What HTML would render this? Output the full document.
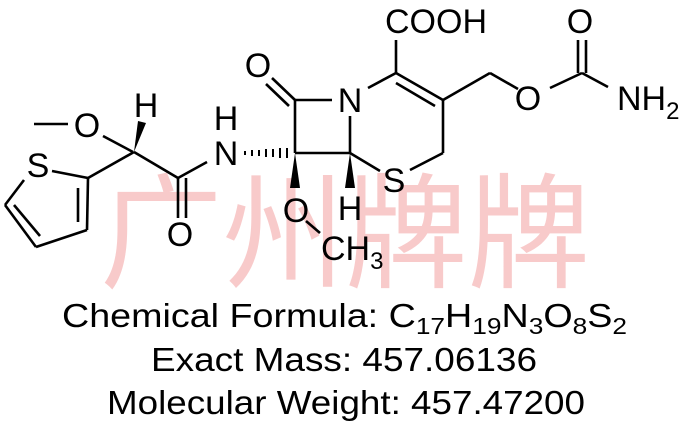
<!DOCTYPE html>
<html><head><meta charset="utf-8"><style>
html,body{margin:0;padding:0;background:#fff;}
svg{display:block;}
text{font-family:"Liberation Sans",Arial,sans-serif;fill:#000;}
</style></head><body>
<svg width="686" height="444" viewBox="0 0 686 444" xmlns="http://www.w3.org/2000/svg">
<text x="100" y="278" font-size="125" textLength="490" lengthAdjust="spacingAndGlyphs" style="font-family:'Noto Sans CJK SC','WenQuanYi Zen Hei',sans-serif;fill:#f4a8a8;opacity:0.6">广州牌牌</text>
<g stroke="#000" stroke-width="2.6" fill="none" stroke-linecap="butt">
<line x1="34" y1="124" x2="68" y2="124"/>
<line x1="103" y1="136" x2="133" y2="152"/>
<line x1="134" y1="152" x2="88" y2="178"/>
<line x1="134" y1="152" x2="178" y2="178"/>
<line x1="178" y1="178" x2="207" y2="162"/>
<line x1="178" y1="178" x2="178" y2="218"/>
<line x1="186" y1="178" x2="186" y2="218"/>
<line x1="52" y1="171" x2="88" y2="178"/>
<line x1="88" y1="178" x2="87" y2="230"/>
<line x1="78" y1="188" x2="78" y2="222"/>
<line x1="87" y1="230" x2="36" y2="247"/>
<line x1="36" y1="247" x2="5" y2="205"/>
<line x1="14" y1="205" x2="40" y2="236"/>
<line x1="5" y1="205" x2="24" y2="180"/>
<line x1="295" y1="153" x2="350" y2="153"/>
<line x1="295" y1="153" x2="295" y2="100"/>
<line x1="295" y1="100" x2="332" y2="100"/>
<line x1="350" y1="153" x2="350" y2="116"/>
<line x1="295" y1="100" x2="272" y2="78"/>
<line x1="289" y1="106" x2="266" y2="84"/>
<line x1="368" y1="88" x2="396" y2="73"/>
<line x1="396" y1="73" x2="443" y2="100"/>
<line x1="396" y1="83" x2="435" y2="106"/>
<line x1="443" y1="100" x2="443" y2="153"/>
<line x1="443" y1="153" x2="410" y2="170"/>
<line x1="350" y1="153" x2="380" y2="171"/>
<line x1="396" y1="73" x2="396" y2="40"/>
<line x1="443" y1="100" x2="490" y2="73"/>
<line x1="490" y1="73" x2="518" y2="89"/>
<line x1="550" y1="88" x2="582" y2="73"/>
<line x1="582" y1="73" x2="608" y2="87"/>
<line x1="578" y1="73" x2="578" y2="40"/>
<line x1="586" y1="73" x2="586" y2="40"/>
<line x1="306" y1="221" x2="320" y2="233"/>
</g>
<polygon points="134,152 138,121 146,123" fill="#000"/>
<polygon points="295,153 290,188 300,188" fill="#000"/>
<polygon points="350,153 345,188 355,188" fill="#000"/>
<g stroke="#000" stroke-width="2">
<line x1="245" y1="151" x2="245" y2="155"/>
<line x1="252" y1="150" x2="252" y2="156"/>
<line x1="259" y1="150" x2="259" y2="156"/>
<line x1="266" y1="149" x2="266" y2="157"/>
<line x1="273" y1="149" x2="273" y2="157"/>
<line x1="280" y1="148" x2="280" y2="158"/>
<line x1="287" y1="148" x2="287" y2="158"/>
</g>
<g font-size="34" text-anchor="middle">
<text x="87" y="137">O</text>
<text x="146" y="117">H</text>
<text x="38" y="177">S</text>
<text x="226" y="130">H</text>
<text x="226" y="165">N</text>
<text x="180" y="246">O</text>
<text x="258" y="77">O</text>
<text x="350" y="112">N</text>
<text x="296" y="222">O</text>
<text x="350" y="220">H</text>
<text x="394" y="192">S</text>
<text x="436" y="33">COOH</text>
<text x="528" y="110">O</text>
<text x="580" y="33">O</text>
</g>
<text x="321" y="260" font-size="34">CH<tspan font-size="24" dy="9">3</tspan></text>
<text x="617" y="110" font-size="34">NH<tspan font-size="24" dy="9">2</tspan></text>
<g font-size="33">
<text x="62" y="327" textLength="565" lengthAdjust="spacingAndGlyphs">Chemical Formula: C<tspan font-size="23" dy="7">17</tspan><tspan dy="-7">H</tspan><tspan font-size="23" dy="7">19</tspan><tspan dy="-7">N</tspan><tspan font-size="23" dy="7">3</tspan><tspan dy="-7">O</tspan><tspan font-size="23" dy="7">8</tspan><tspan dy="-7">S</tspan><tspan font-size="23" dy="7">2</tspan></text>
<text x="151" y="371" textLength="386" lengthAdjust="spacingAndGlyphs">Exact Mass: 457.06136</text>
<text x="107" y="414" textLength="478" lengthAdjust="spacingAndGlyphs">Molecular Weight: 457.47200</text>
</g>
</svg>
</body></html>
